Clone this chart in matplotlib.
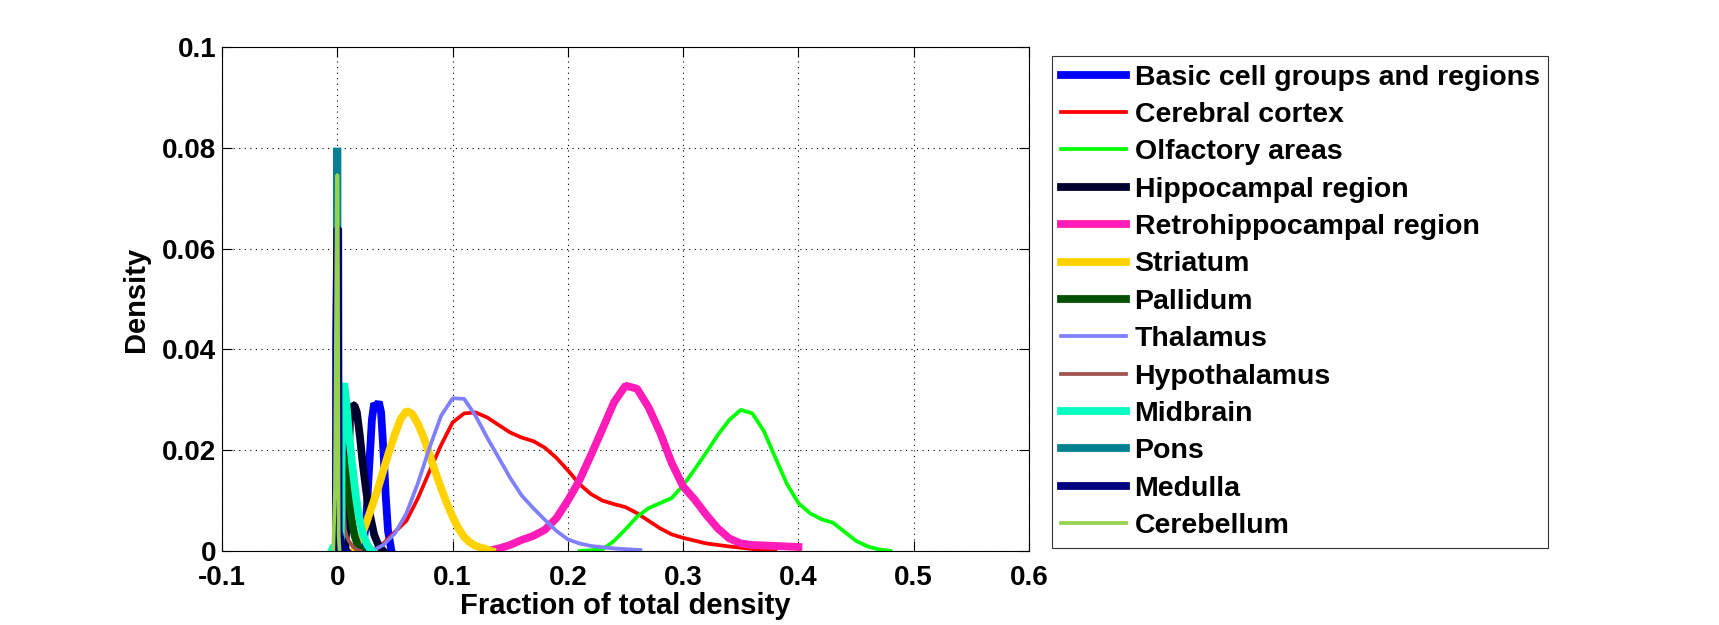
"""
Density of fraction-of-total-density per brain region (MATLAB-style figure).
"""

import matplotlib
matplotlib.use("Agg")
import matplotlib.pyplot as plt

plt.rcParams["font.family"] = ["Liberation Sans", "DejaVu Sans"]
plt.rcParams["font.weight"] = "bold"
plt.rcParams["axes.unicode_minus"] = False

# ----------------------------------------------------------------
# Data
# ----------------------------------------------------------------
basic_x = [0.022, 0.025, 0.028, 0.030, 0.032, 0.034, 0.036, 0.038, 0.040, 0.042, 0.044, 0.047]
basic_y = [0.0, 0.006, 0.018, 0.026, 0.0293, 0.0287, 0.0296, 0.0275, 0.020, 0.011, 0.004, 0.0]

cortex_x = [0.03, 0.04, 0.05, 0.06, 0.07, 0.08, 0.09, 0.10, 0.11, 0.12, 0.13, 0.14,
            0.15, 0.16, 0.17, 0.18, 0.19, 0.20, 0.21, 0.22, 0.23, 0.24, 0.25, 0.26,
            0.27, 0.28, 0.29, 0.30, 0.32, 0.34, 0.36, 0.38]
cortex_y = [0.0, 0.0015, 0.0038, 0.006, 0.0105, 0.0158, 0.021, 0.0255, 0.0273, 0.0275,
            0.0265, 0.025, 0.0235, 0.0225, 0.0218, 0.0205, 0.0185, 0.016, 0.0133, 0.0113,
            0.0100, 0.0093, 0.0087, 0.0075, 0.006, 0.0045, 0.0033, 0.0026, 0.0015, 0.0009,
            0.0004, 0.0]

olf_x = [0.21, 0.23, 0.24, 0.25, 0.26, 0.27, 0.28, 0.29, 0.30, 0.31, 0.32, 0.33, 0.34,
         0.35, 0.36, 0.37, 0.38, 0.39, 0.40, 0.41, 0.42, 0.43, 0.44, 0.45, 0.46, 0.47, 0.48]
olf_y = [0.0, 0.0003, 0.002, 0.0043, 0.0068, 0.0085, 0.0095, 0.0105, 0.013, 0.0162,
         0.0195, 0.023, 0.026, 0.028, 0.0273, 0.0238, 0.0185, 0.0133, 0.0095, 0.0075,
         0.0063, 0.0056, 0.0038, 0.002, 0.0009, 0.0003, 0.0]

hippo_x = [0.007, 0.009, 0.011, 0.013, 0.015, 0.017, 0.0195, 0.022, 0.025, 0.028, 0.032, 0.036, 0.040]
hippo_y = [0.0, 0.012, 0.026, 0.029, 0.0288, 0.0275, 0.023, 0.0175, 0.012, 0.0075, 0.0032, 0.001, 0.0]

retro_x = [0.13, 0.14, 0.15, 0.16, 0.17, 0.18, 0.19, 0.20, 0.21, 0.22, 0.23, 0.24, 0.25,
           0.26, 0.27, 0.28, 0.29, 0.30, 0.31, 0.32, 0.33, 0.34, 0.35, 0.36, 0.38, 0.40]
retro_y = [0.0, 0.0005, 0.0012, 0.0022, 0.003, 0.0042, 0.0065, 0.0100, 0.014, 0.019,
           0.0242, 0.0295, 0.0328, 0.0322, 0.0285, 0.0235, 0.0175, 0.0128, 0.0102, 0.0072,
           0.0045, 0.0025, 0.0015, 0.0012, 0.0010, 0.0008]

striatum_x = [0.014, 0.02, 0.025, 0.03, 0.035, 0.04, 0.045, 0.05, 0.055, 0.06, 0.065, 0.07,
              0.075, 0.08, 0.085, 0.09, 0.095, 0.10, 0.105, 0.11, 0.115, 0.12, 0.134]
striatum_y = [0.0, 0.0025, 0.0055, 0.0088, 0.0122, 0.016, 0.0198, 0.0232, 0.0262, 0.0278,
              0.0272, 0.0252, 0.0225, 0.0192, 0.0157, 0.0125, 0.0095, 0.0068, 0.0045, 0.0028,
              0.0017, 0.001, 0.0]

pallidum_x = [0.001, 0.003, 0.005, 0.007, 0.009, 0.011, 0.013, 0.015, 0.018, 0.021]
pallidum_y = [0.0, 0.012, 0.0188, 0.017, 0.013, 0.009, 0.0055, 0.003, 0.001, 0.0]

thal_x = [0.03, 0.04, 0.05, 0.06, 0.07, 0.08, 0.09, 0.10, 0.11, 0.12, 0.13, 0.14, 0.15,
          0.16, 0.17, 0.18, 0.19, 0.20, 0.21, 0.22, 0.24, 0.263]
thal_y = [0.0, 0.0012, 0.0035, 0.0075, 0.0135, 0.0205, 0.0268, 0.0303, 0.0302, 0.0268,
          0.0225, 0.0185, 0.0145, 0.011, 0.0085, 0.0062, 0.004, 0.0023, 0.0015, 0.001,
          0.0005, 0.0002]

hypo_x = [-0.002, 0.0, 0.002, 0.004, 0.0055, 0.0065, 0.008, 0.010, 0.013, 0.016, 0.020]
hypo_y = [0.0, 0.008, 0.0148, 0.0152, 0.0120, 0.0045, 0.003, 0.002, 0.001, 0.0004, 0.0]

mid_x = [-0.005, -0.003, 0.0, 0.003, 0.0045, 0.006, 0.008, 0.010, 0.013, 0.016, 0.019, 0.022, 0.026, 0.030]
mid_y = [0.0, 0.001, 0.0005, 0.001, 0.031, 0.0333, 0.029, 0.0235, 0.017, 0.011, 0.0065, 0.0035, 0.0012, 0.0]

pons_x = [-0.0007, 0.0, 0.0007]
pons_y = [0.0, 0.080, 0.0]

medulla_x = [-0.0012, -0.0010, 0.0, 0.0008, 0.0012, 0.004, 0.008]
medulla_y = [0.0, 0.043, 0.064, 0.064, 0.004, 0.001, 0.0]

cereb_x = [-0.0035, -0.002, -0.0003, 0.0003, 0.0012, 0.002]
cereb_y = [0.0, 0.012, 0.0746, 0.0746, 0.003, 0.0]

labels = ["Basic cell groups and regions", "Cerebral cortex", "Olfactory areas",
          "Hippocampal region", "Retrohippocampal region", "Striatum", "Pallidum",
          "Thalamus", "Hypothalamus", "Midbrain", "Pons", "Medulla", "Cerebellum"]

series = [(basic_x, basic_y), (cortex_x, cortex_y), (olf_x, olf_y),
          (hippo_x, hippo_y), (retro_x, retro_y), (striatum_x, striatum_y),
          (pallidum_x, pallidum_y), (thal_x, thal_y), (hypo_x, hypo_y),
          (mid_x, mid_y), (pons_x, pons_y), (medulla_x, medulla_y),
          (cereb_x, cereb_y)]

# ----------------------------------------------------------------
# Styles
# ----------------------------------------------------------------
colors = ["#0000FF", "#FF0000", "#00FF00", "#00002E", "#FF1CB8", "#FFD200",
          "#005000", "#8080FF", "#A0524E", "#00FFC0", "#008090", "#000080",
          "#96D250"]
THICK, THIN = 5.6, 2.7
widths = [THICK, THIN, THIN, THICK, THICK, THICK, THICK, THIN, THIN,
          THICK, THICK, THICK, THIN]

fig = plt.figure(figsize=(17.19, 6.25), dpi=100)
ax = fig.add_axes([222 / 1719, 1 - 551 / 625, (1029 - 222) / 1719, (551 - 47) / 625])

for (xs, ys), lab, col, lw in zip(series, labels, colors, widths):
    ax.plot(xs, ys, color=col, lw=lw, label=lab, solid_joinstyle="bevel")

ax.set_xlim(-0.1, 0.6)
ax.set_ylim(0, 0.1)
xt = [-0.1, 0, 0.1, 0.2, 0.3, 0.4, 0.5, 0.6]
yt = [0, 0.02, 0.04, 0.06, 0.08, 0.1]
ax.set_xticks(xt)
ax.set_xticklabels(["%g" % v for v in xt])
ax.set_yticks(yt)
ax.set_yticklabels(["%g" % v for v in yt])
ax.tick_params(direction="in", length=7, width=0.8, labelsize=20,
               top=True, right=True)
ax.tick_params(axis="x", pad=10)
ax.tick_params(axis="y", pad=4)
ax.grid(True, color="black", lw=0.8, linestyle=(0, (1, 4)))
for s in ax.spines.values():
    s.set_linewidth(0.8)

ax.set_xlabel("Fraction of total density", fontsize=21, fontweight="bold", labelpad=1)
ax.set_ylabel("Density", fontsize=21, fontweight="bold", labelpad=9)

leg = ax.legend(loc="upper left", bbox_to_anchor=(1052 / 1719, 1 - 56 / 625),
                bbox_transform=fig.transFigure, borderaxespad=0,
                fontsize=20.5, frameon=True, fancybox=False, edgecolor="black",
                borderpad=0.3, labelspacing=0.40, handlelength=2.3,
                handletextpad=0.3)
leg.get_frame().set_linewidth(0.8)

fig.savefig("out.png", dpi=100)
